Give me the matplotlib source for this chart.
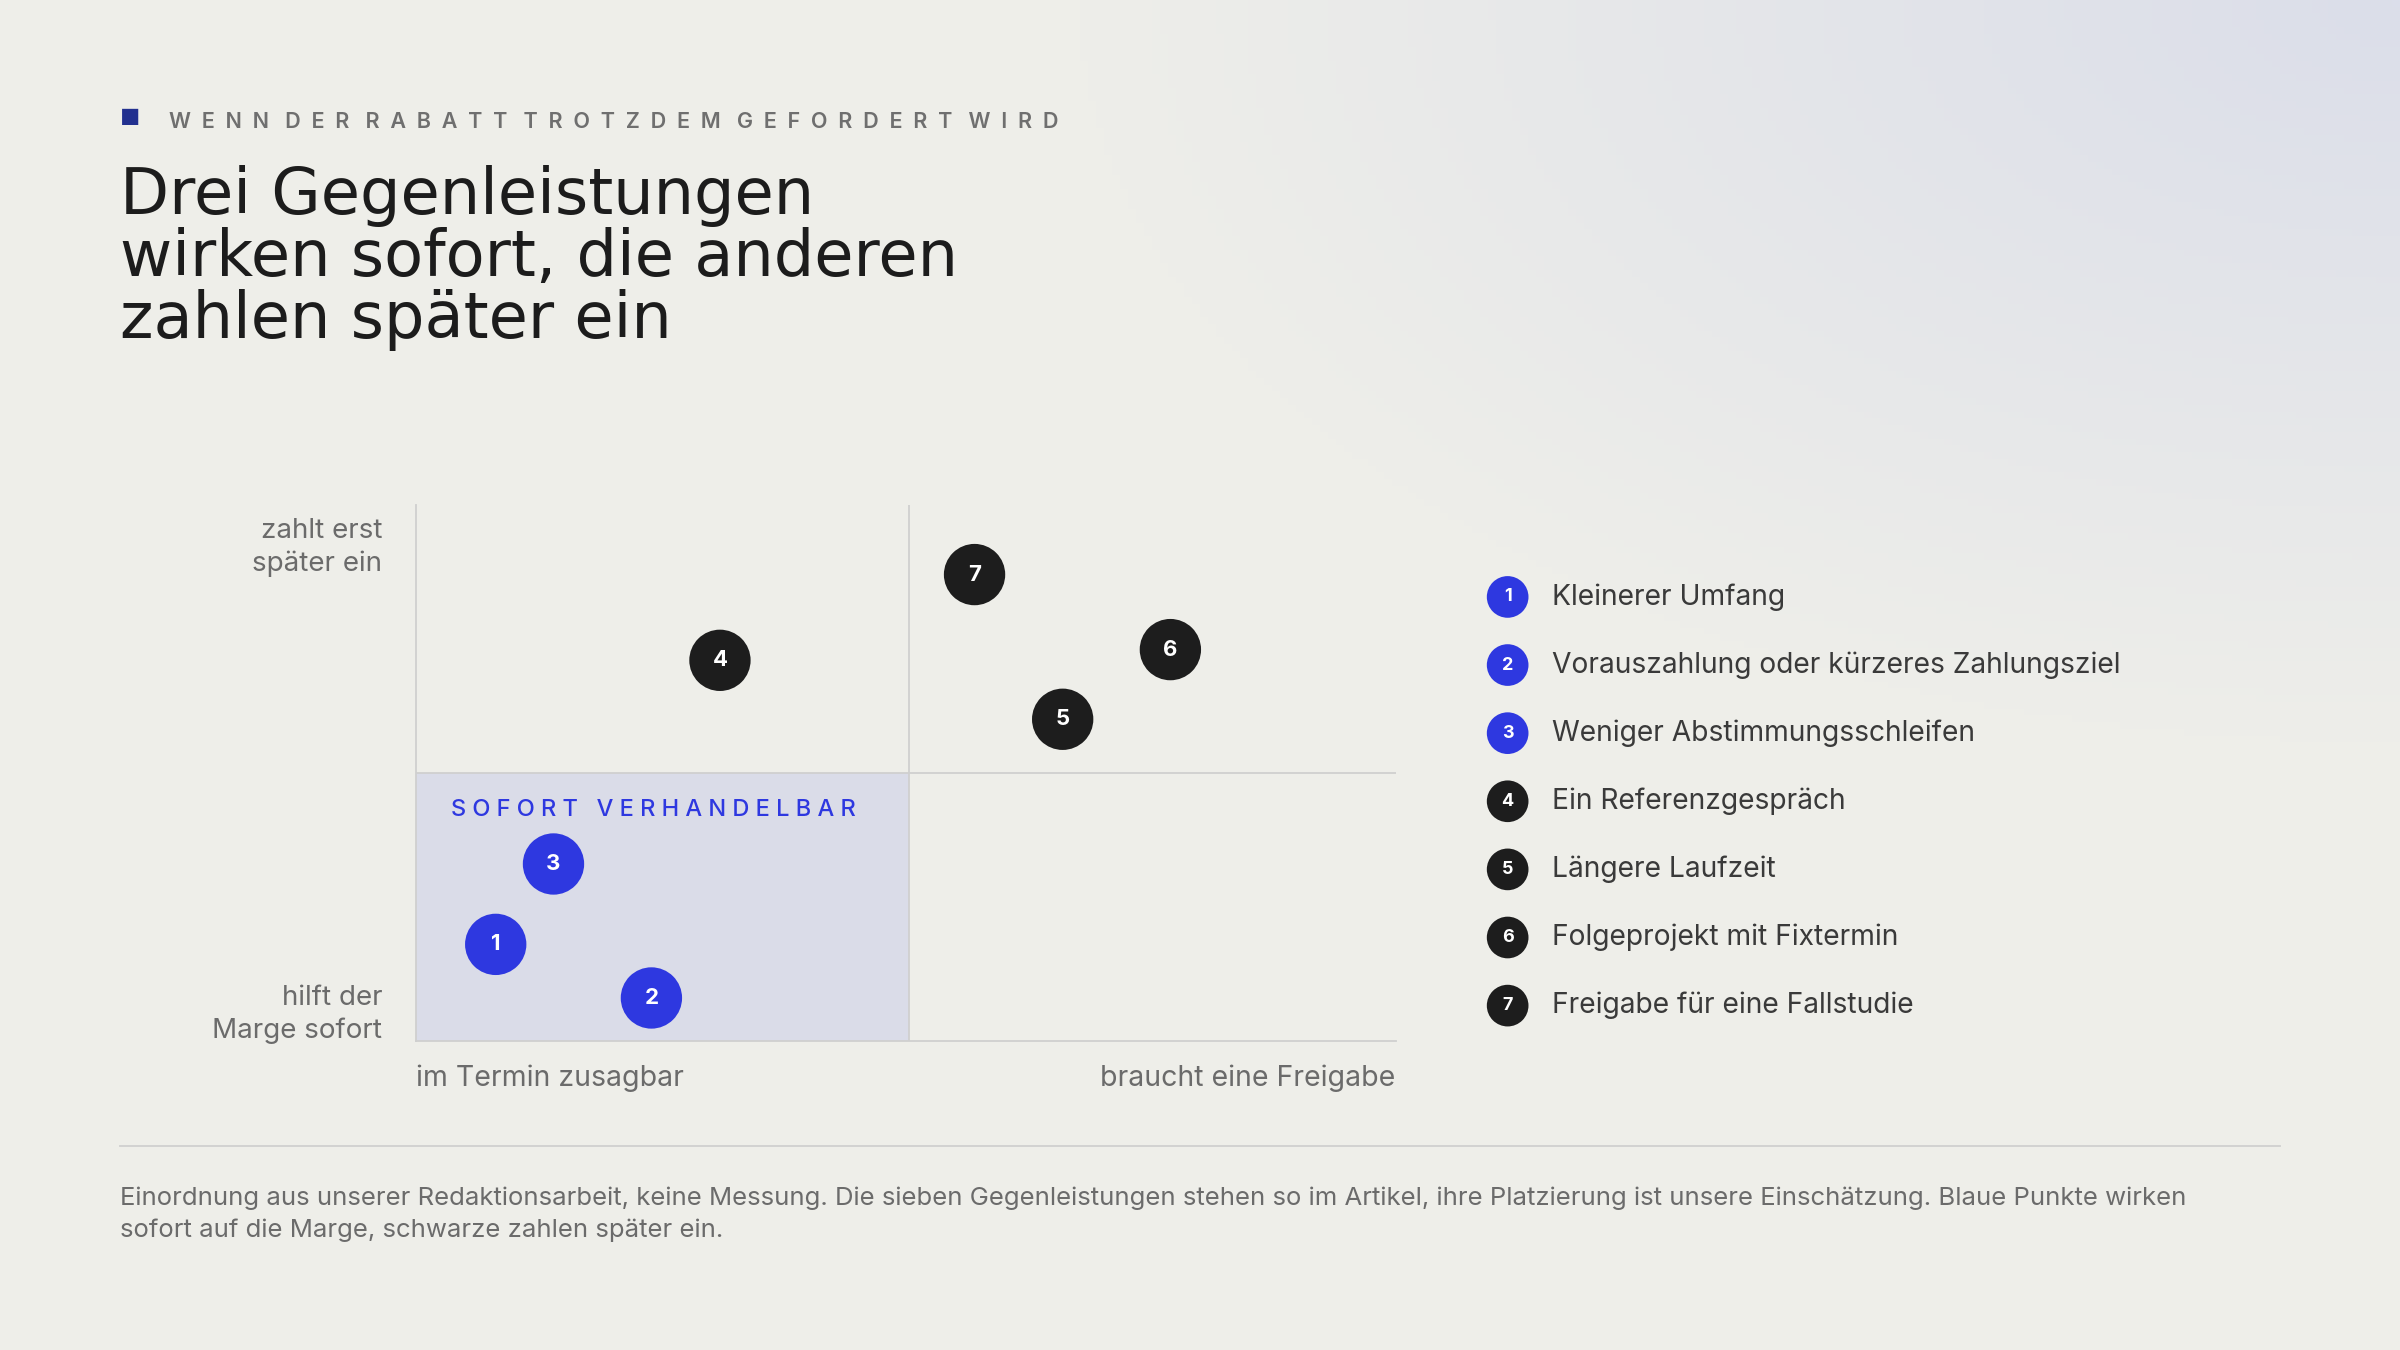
import numpy as np
import matplotlib.pyplot as plt
from matplotlib.patches import Rectangle

labels = ["Kleinerer Umfang", "Vorauszahlung oder kürzeres Zahlungsziel", "Weniger Abstimmungsschleifen",
          "Ein Referenzgespräch", "Längere Laufzeit", "Folgeprojekt mit Fixtermin", "Freigabe für eine Fallstudie"]
xs = [0.081, 0.24, 0.14, 0.31, 0.66, 0.77, 0.57]
ys = [0.18, 0.08, 0.33, 0.71, 0.60, 0.73, 0.87]
immediate = [True, True, True, False, False, False, False]

BLUE = "#2E38E0"
DARK = "#1d1d1d"
BG = "#EEEEE9"
GREY = "#6b6b6b"
plt.rcParams['font.family'] = ['Inter', 'DejaVu Sans']

fig = plt.figure(figsize=(24, 13.5), dpi=100)
fig.patch.set_facecolor(BG)
bgax = fig.add_axes([0, 0, 1, 1], zorder=-10)
gx, gy = np.meshgrid(np.linspace(0, 1, 300), np.linspace(0, 1, 200))
d = np.clip(1 - np.hypot((1 - gx) / 0.55, gy / 0.55), 0, 1)
base = np.array([0xEE, 0xEE, 0xE9]) / 255
tint = np.array([0xDB, 0xDE, 0xEA]) / 255
img = base[None, None, :] * (1 - d[..., None]) + tint[None, None, :] * d[..., None]
bgax.imshow(img, extent=[0, 1, 0, 1], origin='upper', aspect='auto')
bgax.set_xlim(0, 1); bgax.set_ylim(0, 1); bgax.axis('off')

# header
fig.text(0.050, 0.9115, "■", color="#22308f", fontsize=16, va='center')
fig.text(0.0705, 0.910, "   ".join("  ".join(w) for w in "WENN DER RABATT TROTZDEM GEFORDERT WIRD".split()),
         color="#6f6f6f", fontsize=15.5, va='center', fontweight='semibold')
fig.text(0.050, 0.878, "Drei Gegenleistungen\nwirken sofort, die anderen\nzahlen später ein",
         fontsize=46, color="#1c1c1c", va='top', linespacing=1.0, fontweight='medium',
         family=['DejaVu Sans'])

ax = fig.add_axes([0.1735, 0.229, 0.408, 0.397])
ax.set_facecolor('none')
ax.set_xlim(0, 1); ax.set_ylim(0, 1)
ax.add_patch(Rectangle((0, 0), 0.503, 0.5, facecolor="#DADCE8", edgecolor='none', zorder=0))
ax.axvline(0.503, color="#cfcfcf", lw=1.3, zorder=1)
ax.axhline(0.5, color="#cfcfcf", lw=1.3, zorder=1)
for s in ['top', 'right']:
    ax.spines[s].set_visible(False)
for s in ['left', 'bottom']:
    ax.spines[s].set_color("#cfcfcf"); ax.spines[s].set_linewidth(1.3)
ax.set_xticks([]); ax.set_yticks([])
ax.text(0.035, 0.43, " ".join("SOFORT") + "   " + " ".join("VERHANDELBAR"), color=BLUE,
        fontsize=17, va='center', fontweight='medium')
for i, (x, y, im) in enumerate(zip(xs, ys, immediate)):
    ax.scatter([x], [y], s=1950, color=BLUE if im else DARK, zorder=3, edgecolors='none')
    ax.text(x, y, str(i + 1), color='white', ha='center', va='center', fontsize=16, fontweight='bold', zorder=4)

ax.text(-0.035, 0.975, "zahlt erst\nspäter ein", ha='right', va='top', fontsize=20, color=GREY, linespacing=1.3)
ax.text(-0.035, -0.005, "hilft der\nMarge sofort", ha='right', va='bottom', fontsize=20, color=GREY, linespacing=1.3)
ax.text(0.0, -0.045, "im Termin zusagbar", ha='left', va='top', fontsize=20.5, color=GREY)
ax.text(1.0, -0.045, "braucht eine Freigabe", ha='right', va='top', fontsize=20.5, color=GREY)

# legend
lg = fig.add_axes([0, 0, 1, 1], zorder=5)
lg.set_xlim(0, 1); lg.set_ylim(0, 1); lg.axis('off')
lx = 985 / 1568
for i, (lab, im) in enumerate(zip(labels, immediate)):
    yy = 1 - (390 + 44.5 * i) / 882
    lg.scatter([lx], [yy], s=900, color=BLUE if im else DARK, edgecolors='none')
    lg.text(lx, yy, str(i + 1), color='white', ha='center', va='center', fontsize=13, fontweight='bold')
    lg.text(1014 / 1568, yy, lab, va='center', fontsize=20.3, color="#3a3a3a")

lg.plot([0.050, 0.950], [1 - 749 / 882] * 2, color="#cfcfcf", lw=1.3)
fig.text(0.050, 1 - 775 / 882,
         "Einordnung aus unserer Redaktionsarbeit, keine Messung. Die sieben Gegenleistungen stehen so im Artikel, ihre Platzierung ist unsere Einschätzung. Blaue Punkte wirken\nsofort auf die Marge, schwarze zahlen später ein.",
         fontsize=18.5, color=GREY, va='top', linespacing=1.5)

fig.savefig("out.png", dpi=100, facecolor=fig.get_facecolor())
